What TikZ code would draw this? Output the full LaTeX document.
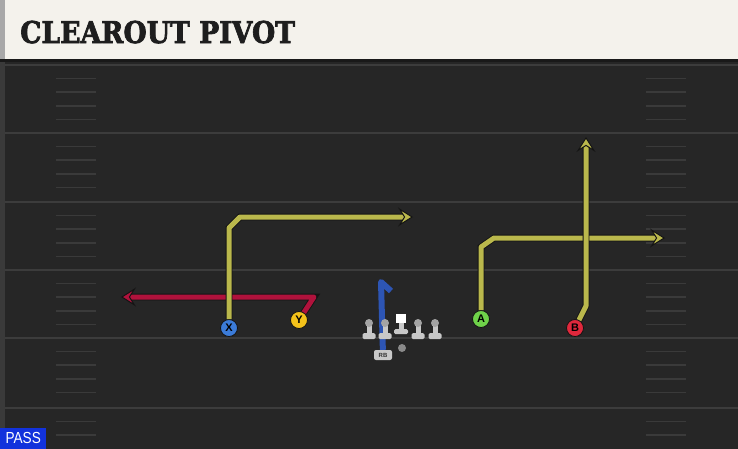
\documentclass[tikz,border=0pt]{standalone}
\usepackage{fontspec}
\setmainfont{Liberation Sans}
\newfontfamily\titlefont{DejaVu Serif}[BoldFeatures={FakeBold=2.5}]
\usetikzlibrary{arrows.meta}

\definecolor{fieldbg}{HTML}{262626}
\definecolor{headbg}{HTML}{F4F2EC}
\definecolor{headedge}{HTML}{A8A8A8}
\definecolor{fieldedge}{HTML}{3A3A3A}
\definecolor{yardcol}{HTML}{3C3C3C}
\definecolor{hashcol}{HTML}{3A3A3A}
\definecolor{titlecol}{HTML}{1E1E1E}
\definecolor{routeedge}{HTML}{141414}
\definecolor{yroute}{HTML}{BAB84C}
\definecolor{rroute}{HTML}{B0123C}
\definecolor{broute}{HTML}{2D55B4}
\definecolor{xblue}{HTML}{3B7BD8}
\definecolor{yyellow}{HTML}{F4C21A}
\definecolor{agreen}{HTML}{6FD24A}
\definecolor{bred}{HTML}{E0283C}
\definecolor{lmgray}{HTML}{C8C8C8}
\definecolor{lmhead}{HTML}{A4A4A4}
\definecolor{qbgray}{HTML}{8A8A8A}
\definecolor{passblue}{HTML}{1232DC}

\tikzset{
	yardline/.style={yardcol, line width=2pt},
	hashline/.style={hashcol, line width=1.5pt},
	player/.style={circle, draw=routeedge, line width=0.8pt, fill=#1, inner sep=0pt,
		minimum size=17pt, font=\bfseries\fontsize{11}{11}\selectfont},
	route/.style={draw=#1, line width=5pt, line join=round,
		preaction={draw=routeedge, line width=6.8pt, shorten >=9pt, -}},
	routetip/.style={-{Stealth[length=15pt, width=19pt, inset=6pt, line width=1pt, color=routeedge, fill=#1]}},
	lman/.pic={
		\fill[lmgray, rounded corners=1.5pt] (-6.5,10) rectangle (6.5,16);
		\fill[lmgray] (-2.5,0) rectangle (2.5,10);
		\fill[lmhead] (0,0) circle (4);
	},
	cman/.pic={
		\fill[lmgray, rounded corners=1.5pt] (-7,6) rectangle (7,11);
		\fill[lmgray] (-2.5,0) rectangle (2.5,6);
		\fill[white] (-4.7,-9) rectangle (4.7,0);
	},
}

\begin{document}
\begin{tikzpicture}[x=1pt,y=-1pt]
		\useasboundingbox (0,0) rectangle (738,448);

		% field and header
		\fill[fieldbg] (-2,-2) rectangle (740,452);
		\fill[fieldedge] (-2,59) rectangle (5,452);
		\fill[headbg] (-2,-2) rectangle (740,59);
		\fill[headedge] (-2,-2) rectangle (5,59);
		\fill[black!90] (-2,59) rectangle (740,62);
		\node[anchor=base west, inner sep=0pt, text=titlecol,
			font=\titlefont\bfseries\fontsize{30}{30}\selectfont] (title) at (20,43) {\scalebox{0.89}[1]{CLEAROUT PIVOT}};

		\begin{scope}
			\clip (0,62) rectangle (740,447);
			\foreach \y in {65,133,202,270,338,408} {
				\draw[yardline] (5,\y) -- (740,\y);
				\foreach \k in {1,...,4} {
					\draw[hashline] (56,\y+\k*13.6) -- (96,\y+\k*13.6);
					\draw[hashline] (646,\y+\k*13.6) -- (686,\y+\k*13.6);
				}
			}
		\end{scope}

		% players
		\node[player=xblue] (X) at (229,328) {X};
		\node[player=yyellow] (Y) at (299,320) {Y};
		\node[player=agreen] (A) at (481,319) {A};
		\node[player=bred] (B) at (575,328) {B};

		\coordinate (xup) at (229,228);
		\coordinate (xcut) at (240,217);
		\coordinate (xend) at (413,217);
		\coordinate (yup) at (314,297);
		\coordinate (yend) at (121,297);
		\coordinate (aup) at (481,247);
		\coordinate (acut) at (494,238);
		\coordinate (aend) at (665,238);
		\coordinate (bup) at (586,306);
		\coordinate (bend) at (586,137);
		\coordinate (rbtop) at (381,282);
		\coordinate (rbhook) at (391,291);

		% routes
		\draw[route=rroute, routetip=rroute] (Y) -- (yup) -- (yend);
		\draw[route=yroute, routetip=yroute] (X) -- (xup) -- (xcut) -- (xend);
		\draw[route=yroute, routetip=yroute] (A) -- (aup) -- (acut) -- (aend);
		\draw[route=yroute, routetip=yroute] (B) -- (bup) -- (bend);

		% backfield and line
		\node[fill=lmgray, rounded corners=2pt, inner sep=0pt, minimum width=18pt, minimum height=10pt,
			text=black!80, font=\bfseries\fontsize{6}{6}\selectfont] (RB) at (383,355) {RB};
		\draw[broute, line width=6pt, line join=round] (RB) -- (rbtop) -- (rbhook);
		\pic at (369,323) {lman};
		\pic at (385,323) {lman};
		\pic at (401,323) {cman};
		\pic at (418,323) {lman};
		\pic at (435,323) {lman};
		\node[circle, fill=qbgray, inner sep=0pt, minimum size=8pt] (QB) at (402,348) {};

		\node[fill=passblue, text=white, anchor=south west, inner sep=0pt, minimum width=46pt,
			minimum height=21pt, font=\fontsize{16}{16}\selectfont] (PASS) at (0,449) {\scalebox{0.85}[1]{PASS}};

	\end{tikzpicture}
\end{document}
